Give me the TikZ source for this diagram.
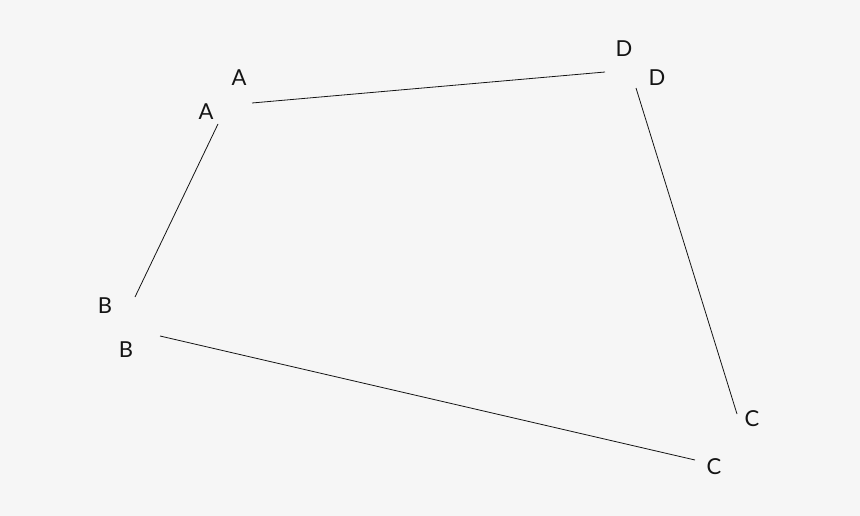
\documentclass[tikz,border=0pt]{standalone}
\usepackage{fontspec}
\setmainfont{Lato}
\usetikzlibrary{positioning}
\definecolor{bgray}{RGB}{246,246,246}
\definecolor{ink}{RGB}{20,20,20}

\begin{document}
\begin{tikzpicture}[x=1pt, y=-1pt,
    lbl/.style={inner sep=0pt, text=ink, font=\fontsize{22}{26}\selectfont},
    side/.style={draw=ink, line width=0.8pt}]
        % Fondo
        \fill[bgray] (0,0) rectangle (860,516);
        \useasboundingbox (0,0) rectangle (860,516);

        % Extremos de los lados
        \coordinate (ad-a) at (252,103);
        \coordinate (ad-d) at (605,72);
        \coordinate (ab-a) at (218,124);
        \coordinate (ab-b) at (135,297);
        \coordinate (bc-b) at (160,336);
        \coordinate (bc-c) at (695,460);
        \coordinate (dc-d) at (636,88);
        \coordinate (dc-c) at (737,414);

        % Etiquetas
        \node[lbl] (la1) at (239,78) {A};
        \node[lbl] (la2) at (206,112) {A};
        \node[lbl] (lb1) at (105,306) {B};
        \node[lbl] (lb2) at (126,350) {B};
        \node[lbl] (lc1) at (752,419) {C};
        \node[lbl] (lc2) at (714,467) {C};
        \node[lbl] (ld1) at (624,49) {D};
        \node[lbl] (ld2) at (657,78) {D};

        % Lados
        \draw[side] (ad-a) -- (ad-d);
        \draw[side] (ab-a) -- (ab-b);
        \draw[side] (bc-b) -- (bc-c);
        \draw[side] (dc-d) -- (dc-c);
    \end{tikzpicture}
\end{document}
